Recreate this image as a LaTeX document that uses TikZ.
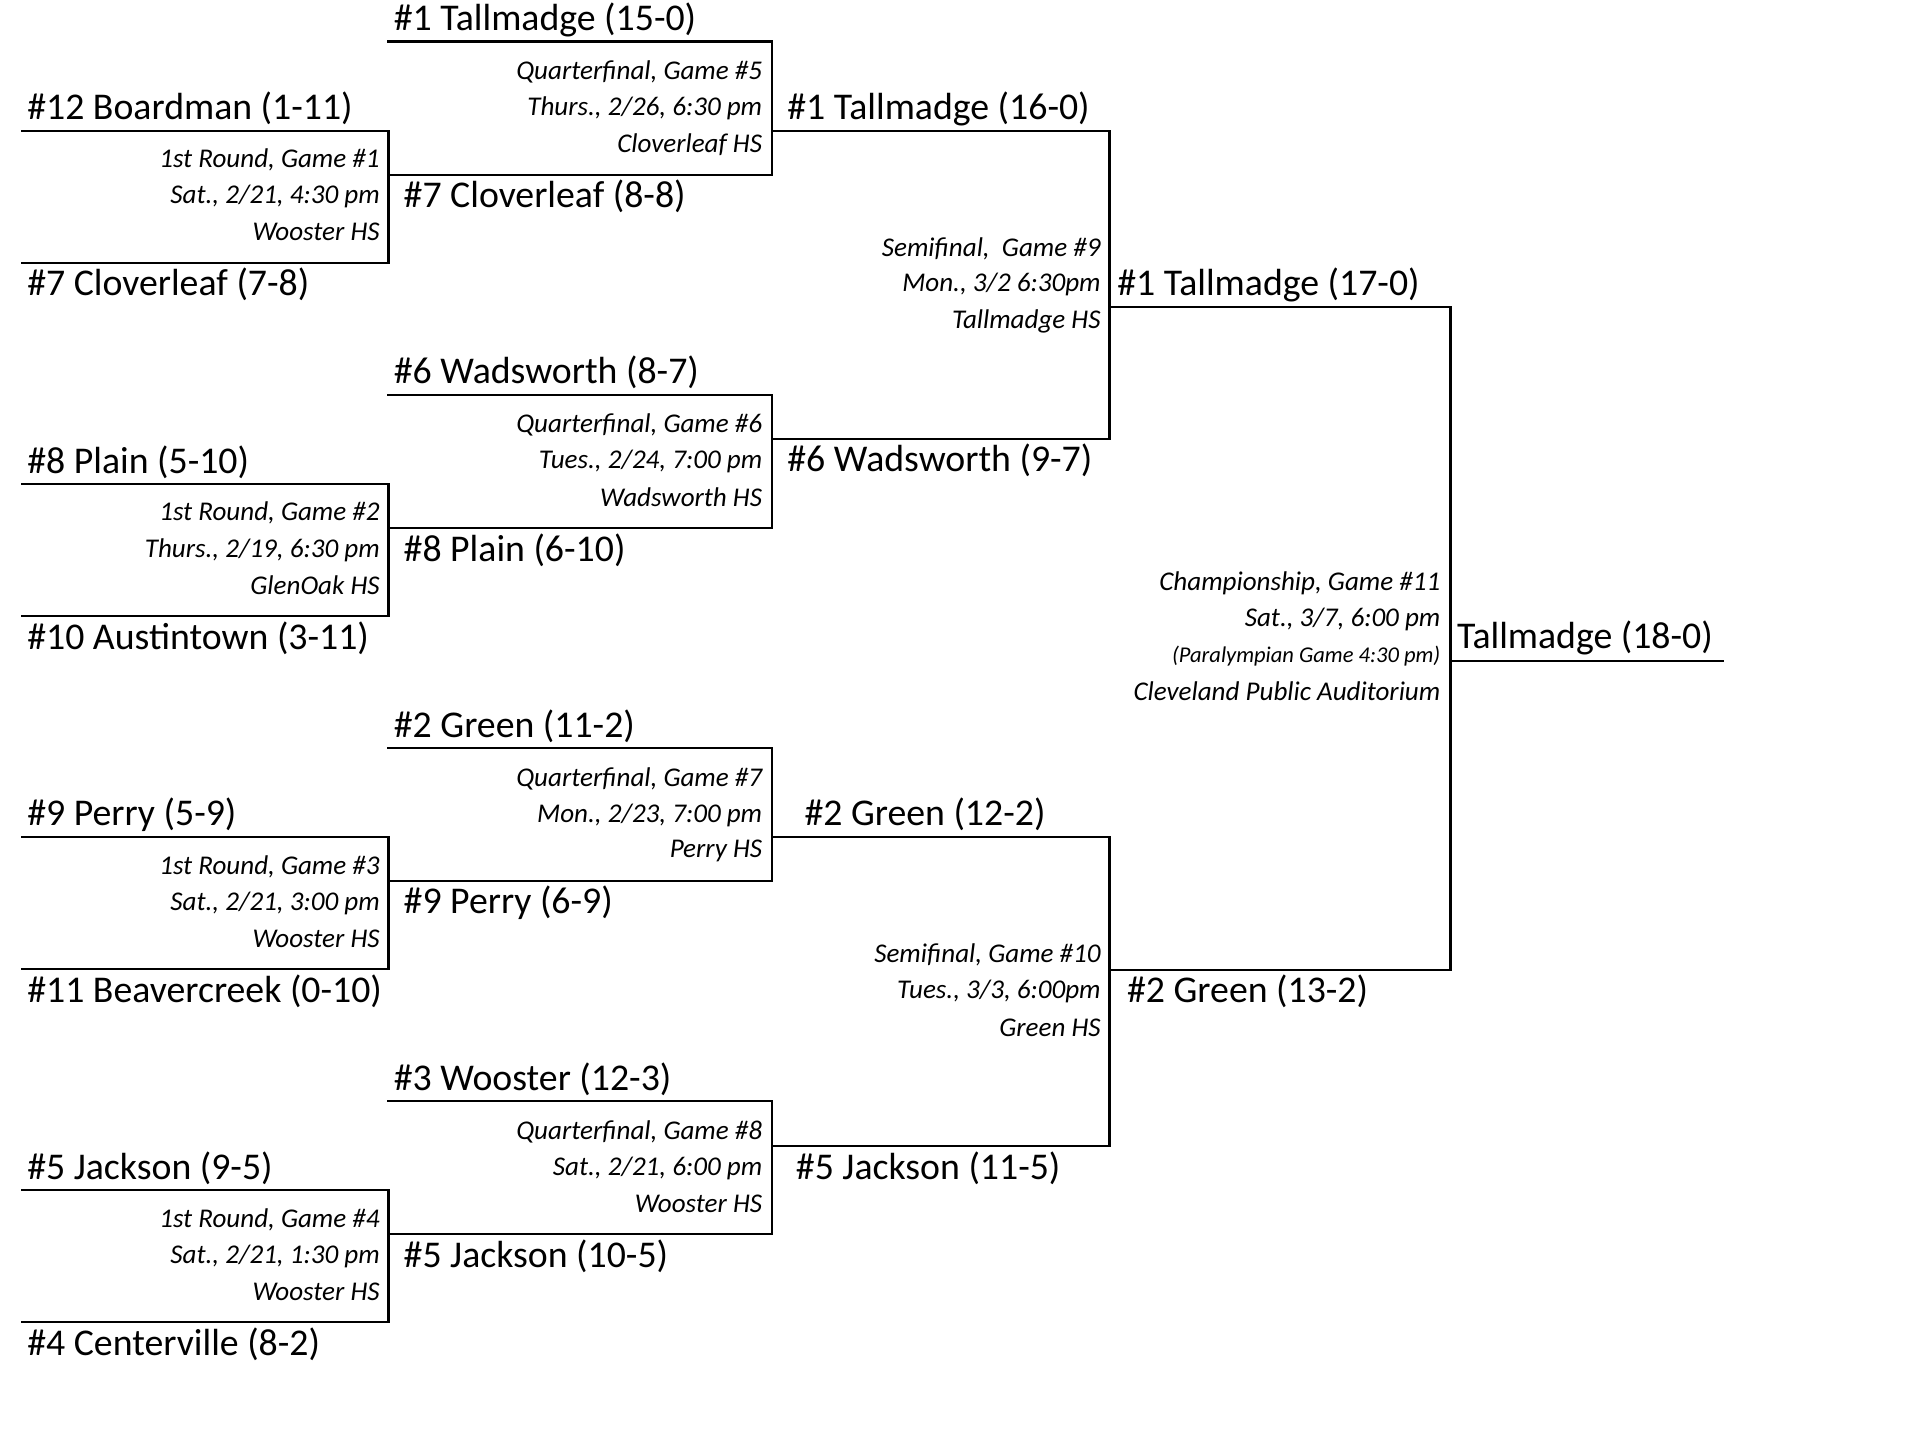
\documentclass[tikz,border=0pt]{standalone}
\usepackage{fontspec}
\setmainfont{Carlito}
\usetikzlibrary{positioning}

\tikzset{
  team/.style={anchor=west, inner sep=0pt, font=\fontsize{17.6}{20}\selectfont},
  info/.style={anchor=east, inner sep=0pt, font=\fontsize{12.6}{14}\selectfont\itshape},
  bracket/.style={line width=1.1pt, line cap=rect}
}

\begin{document}
\begin{tikzpicture}[x=0.02cm, y=-0.02cm]
		% page frame
		\useasboundingbox (0,0) rectangle (1563,1176);

		% first round and quarterfinal brackets, one block per quarter
		\foreach \o/\ta/\tb/\tw/\qa/\ga/\gb/\gc/\qd/\qt/\qh in {
		  0/{\#12 Boardman (1-11)}/{\#7 Cloverleaf (7-8)}/{\#7 Cloverleaf (8-8)}/{\#1 Tallmadge (15-0)}/{1st Round, Game \#1}/{Sat., 2/21, 4:30 pm}/{Wooster HS}/{Quarterfinal, Game \#5}/{Thurs., 2/26, 6:30 pm}/{Cloverleaf HS},
		  289/{\#8 Plain (5-10)}/{\#10 Austintown (3-11)}/{\#8 Plain (6-10)}/{\#6 Wadsworth (8-7)}/{1st Round, Game \#2}/{Thurs., 2/19, 6:30 pm}/{GlenOak HS}/{Quarterfinal, Game \#6}/{Tues., 2/24, 7:00 pm}/{Wadsworth HS},
		  578/{\#9 Perry (5-9)}/{\#11 Beavercreek (0-10)}/{\#9 Perry (6-9)}/{\#2 Green (11-2)}/{1st Round, Game \#3}/{Sat., 2/21, 3:00 pm}/{Wooster HS}/{Quarterfinal, Game \#7}/{Mon., 2/23, 7:00 pm}/{Perry HS},
		  867/{\#5 Jackson (9-5)}/{\#4 Centerville (8-2)}/{\#5 Jackson (10-5)}/{\#3 Wooster (12-3)}/{1st Round, Game \#4}/{Sat., 2/21, 1:30 pm}/{Wooster HS}/{Quarterfinal, Game \#8}/{Sat., 2/21, 6:00 pm}/{Wooster HS}} {
		  \draw [bracket] (18,107+\o) -| (318,215+\o) -- (18,215+\o);
		  \draw [bracket] (318,143+\o) -- (632,143+\o) |- (318,34+\o);
		  \node [team] (top-\o) at (22,89+\o) {\ta};
		  \node [team] (bot-\o) at (22,233+\o) {\tb};
		  \node [team] (win-\o) at (330,161+\o) {\tw};
		  \node [team] (qtop-\o) at (322,16+\o) {\qa};
		  \node [info] (ga-\o) at (311,131+\o) {\ga};
		  \node [info] (gb-\o) at (311,161+\o) {\gb};
		  \node [info] (gc-\o) at (311,190+\o) {\gc};
		  \node [info] (qd-\o) at (624,59+\o) {\qd};
		  \node [info] (qt-\o) at (624,89+\o) {\qt};
		  \node [info] (qh-\o) at (624,118+\o) {\qh};
		}

		% semifinals
		\draw [bracket] (632,107) -- (908,107) |- (632,359);
		\draw [bracket] (632,685) -- (908,685) |- (632,938);
		\draw [bracket] (908,251) -- (1187,251) |- (908,794);
		\draw [bracket] (1187,541) -- (1410,541);

		\node [team] (qw1) at (644,89) {\#1 Tallmadge (16-0)};
		\node [team] (qw2) at (644,377) {\#6 Wadsworth (9-7)};
		\node [team] (qw3) at (658,666) {\#2 Green (12-2)};
		\node [team] (qw4) at (651,956) {\#5 Jackson (11-5)};

		\node [info] (s1a) at (901,204) {Semifinal,\ \ Game \#9};
		\node [info] (s1b) at (901,233) {Mon., 3/2 6:30pm};
		\node [info] (s1c) at (901,263) {Tallmadge HS};
		\node [info] (s2a) at (901,781) {Semifinal, Game \#10};
		\node [info] (s2b) at (901,811) {Tues., 3/3, 6:00pm};
		\node [info] (s2c) at (901,841) {Green HS};

		\node [team] (sw1) at (914,233) {\#1 Tallmadge (17-0)};
		\node [team] (sw2) at (922,811) {\#2 Green (13-2)};

		% championship
		\node [info] (fa) at (1179,477) {Championship, Game \#11};
		\node [info] (fb) at (1179,507) {Sat., 3/7, 6:00 pm};
		\node [info, font=\fontsize{10.5}{12}\selectfont\itshape] (fc) at (1179,537) {(Paralympian Game 4:30 pm)};
		\node [info] (fd) at (1179,566) {Cleveland Public Auditorium};
		\node [team] (champ) at (1192,522) {Tallmadge (18-0)};
\end{tikzpicture}
\end{document}
